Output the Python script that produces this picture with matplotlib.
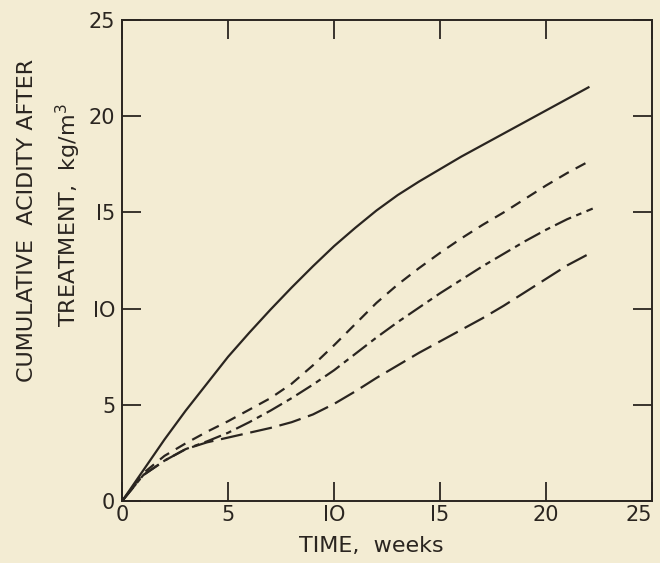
import matplotlib
matplotlib.use("Agg")
import matplotlib.pyplot as plt

# Data
solid_x = [0, 1, 2, 3, 4, 5, 6, 7, 8, 9, 10, 11, 12, 13, 14, 15, 16, 17, 18, 19, 20, 21, 22]
solid_y = [0, 1.6, 3.2, 4.7, 6.1, 7.5, 8.75, 9.95, 11.1, 12.2, 13.25, 14.2, 15.1, 15.9, 16.6,
           17.25, 17.9, 18.5, 19.1, 19.7, 20.3, 20.9, 21.5]

dashed_x = [0, 1, 2, 3, 4, 5, 6, 7, 8, 9, 10, 11, 12, 13, 14, 15, 16, 17, 18, 19, 20, 21, 22.1]
dashed_y = [0, 1.45, 2.35, 3.0, 3.6, 4.15, 4.75, 5.35, 6.1, 7.05, 8.1, 9.2, 10.3, 11.25, 12.1,
            12.9, 13.65, 14.35, 15.0, 15.7, 16.4, 17.05, 17.7]

dashdot_x = [0, 1, 2, 3, 4, 5, 6, 7, 8, 9, 10, 11, 12, 13, 14, 15, 16, 17, 18, 19, 20, 21, 22.2]
dashdot_y = [0, 1.35, 2.1, 2.7, 3.1, 3.55, 4.1, 4.7, 5.35, 6.05, 6.8, 7.65, 8.5, 9.3, 10.05,
             10.8, 11.5, 12.2, 12.85, 13.5, 14.1, 14.65, 15.2]

longdash_x = [0, 1, 2, 3, 4, 5, 6, 7, 8, 9, 10, 11, 12, 13, 14, 15, 16, 17, 18, 19, 20, 21, 22.2]
longdash_y = [0, 1.35, 2.1, 2.7, 3.05, 3.3, 3.55, 3.8, 4.1, 4.5, 5.05, 5.7, 6.4, 7.05, 7.7,
              8.3, 8.9, 9.5, 10.15, 10.85, 11.55, 12.25, 12.95]

ticks = [0, 5, 10, 15, 20, 25]
tick_labels = ["0", "5", "IO", "I5", "20", "25"]

bg = "#f3ecd3"
ink = "#2a2520"

plt.rcParams['font.family'] = ['DejaVu Sans']

fig = plt.figure(figsize=(6.6, 5.63), dpi=100, facecolor=bg)
ax = fig.add_axes([0.185, 0.110, 0.803, 0.8545], facecolor=bg)

ax.plot(solid_x, solid_y, color=ink, lw=1.6, linestyle='-')
ax.plot(dashed_x, dashed_y, color=ink, lw=1.6, linestyle=(0, (5, 3.5)))
ax.plot(dashdot_x, dashdot_y, color=ink, lw=1.6, linestyle=(0, (8, 2.5, 2.5, 2.5)))
ax.plot(longdash_x, longdash_y, color=ink, lw=1.6, linestyle=(0, (10, 3.5)))

ax.set_xlim(0, 25)
ax.set_ylim(0, 25)
ax.set_xticks(ticks)
ax.set_yticks(ticks)
ax.set_xticklabels(tick_labels)
ax.set_yticklabels(tick_labels)
ax.tick_params(direction='in', length=14, width=1.3, colors=ink, labelsize=15,
               top=True, right=True)
ax.tick_params(axis='y', pad=5)
ax.tick_params(axis='x', pad=3)
xl = ax.get_xticklabels()
xl[-1].set_horizontalalignment('right')
xl[0].set_horizontalalignment('center')
for s in ax.spines.values():
    s.set_color(ink)
    s.set_linewidth(1.4)

fig.text(371 / 660, 1 - 546 / 563, "TIME,  weeks", ha='center', va='center',
         fontsize=16, color=ink)
fig.text(27 / 660, 1 - 220 / 563, "CUMULATIVE  ACIDITY AFTER", ha='center',
         va='center', rotation=90, fontsize=16, color=ink)
fig.text(68 / 660, 1 - 215 / 563, r"TREATMENT,  kg/m$^3$", ha='center',
         va='center', rotation=90, fontsize=16, color=ink)

fig.savefig("out.png", dpi=100, facecolor=bg)
